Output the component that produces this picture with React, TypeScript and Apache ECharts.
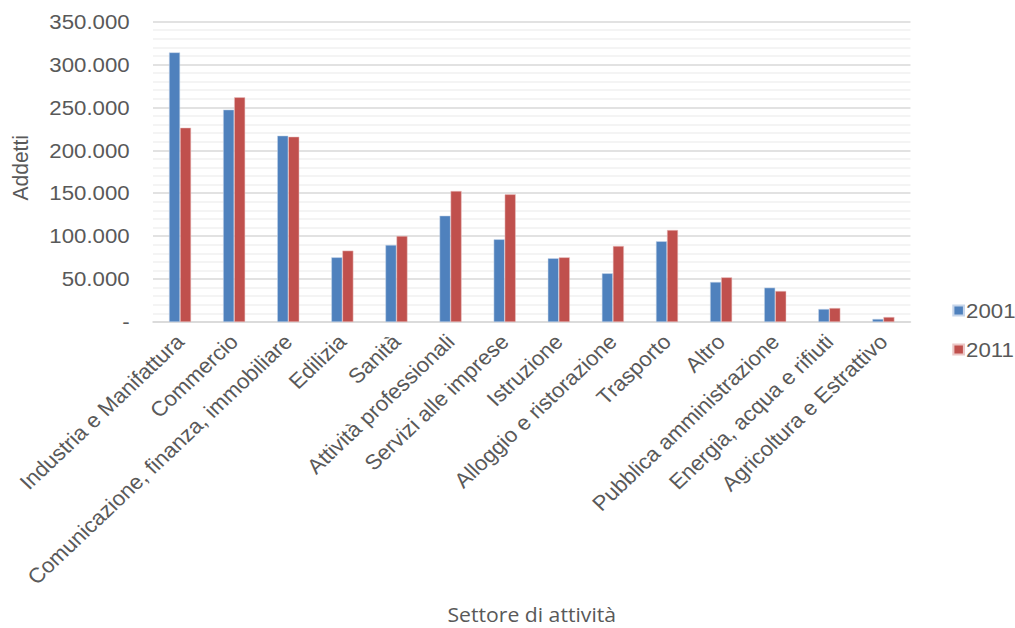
import React, { useEffect, useRef } from "react";
import * as echarts from "echarts";

const categories = [
  "Industria e Manifattura",
  "Commercio",
  "Comunicazione, finanza, immobiliare",
  "Edilizia",
  "Sanità",
  "Attività professionali",
  "Servizi alle imprese",
  "Istruzione",
  "Alloggio e ristorazione",
  "Trasporto",
  "Altro",
  "Pubblica amministrazione",
  "Energia, acqua e rifiuti",
  "Agricoltura e Estrattivo",
];

const addetti2001 = [
  314000, 247300, 217000, 75300, 89700, 123800, 96300, 74200, 56700, 94000,
  46600, 40000, 15100, 3500,
];

const addetti2011 = [
  226300, 261700, 215800, 83100, 100200, 152600, 148700, 75300, 88500, 107100,
  52000, 36100, 16300, 5800,
];

const seriesNames = ["2001", "2011"];
const yTitle = "Addetti";
const xTitle = "Settore di attività";

// The chart is laid out on a slightly narrower canvas and widened with a CSS scale.
const STRETCH = 1.06;
const PAGE_W = 1015;
const PAGE_H = 628;
const CHART_W = PAGE_W / STRETCH;

const formatThousands = (v: number) =>
  v === 0 ? "-" : String(Math.round(v)).replace(/\B(?=(\d{3})+(?!\d))/g, ".");

export default function App() {
  const ref = useRef<HTMLDivElement>(null);

  useEffect(() => {
    if (!ref.current) return;
    const chart = echarts.init(ref.current, undefined, { renderer: "svg" });
    const font = "'Liberation Sans', Arial, sans-serif";
    const gridLeft = 153 / STRETCH;
    const gridRight = CHART_W - 910 / STRETCH;
    chart.setOption({
      animation: false,
      backgroundColor: "#ffffff",
      textStyle: { fontFamily: font },
      grid: { left: gridLeft, right: gridRight, top: 21.5, bottom: 306, containLabel: false },
      legend: {
        orient: "vertical",
        left: 947 / STRETCH,
        top: 295,
        itemWidth: 10,
        itemHeight: 10,
        itemGap: 18,
        icon: "rect",
        data: seriesNames,
        textStyle: { fontSize: 21, color: "#595959", fontFamily: font, padding: [0, 0, 0, -3] },
      },
      xAxis: {
        type: "category",
        data: categories,
        axisTick: { show: false },
        axisLine: { show: true, lineStyle: { color: "#d9d9d9", width: 1.5 } },
        axisLabel: {
          rotate: 45,
          interval: 0,
          margin: 16,
          fontSize: 21,
          color: "#595959",
          fontFamily: font,
        },
        name: xTitle,
        nameLocation: "middle",
        nameGap: 282,
        nameTextStyle: {
          fontSize: 20,
          lineHeight: 20,
          color: "#595959",
          fontFamily: "'Open Sans', sans-serif",
        },
      },
      yAxis: {
        type: "value",
        min: 0,
        max: 350000,
        interval: 50000,
        axisLine: { show: false },
        axisTick: { show: false },
        axisLabel: {
          formatter: formatThousands,
          fontSize: 21,
          color: "#595959",
          margin: 22,
          fontFamily: font,
        },
        splitLine: { show: true, lineStyle: { color: "#d9d9d9", width: 1.5 } },
        minorTick: { show: false, splitNumber: 5 },
        minorSplitLine: { show: true, lineStyle: { color: "#f0f0f0", width: 1.5 } },
        name: yTitle,
        nameLocation: "middle",
        nameGap: 115,
        nameTextStyle: { fontSize: 21, color: "#595959", fontFamily: font, padding: [0, 0, 0, 8] },
      },
      series: [
        {
          name: seriesNames[0],
          type: "bar",
          data: addetti2001,
          barWidth: 10.4,
          barGap: "0%",
          itemStyle: { color: "#4f81bd", borderColor: "#c6d5ea", borderWidth: 0.5 },
        },
        {
          name: seriesNames[1],
          type: "bar",
          data: addetti2011,
          barWidth: 10.4,
          barGap: "0%",
          itemStyle: { color: "#c0504d", borderColor: "#ecc7c6", borderWidth: 0.5 },
        },
      ],
    });
    return () => chart.dispose();
  }, []);

  return (
    <div style={{ position: "absolute", left: 0, top: 0, width: PAGE_W, height: PAGE_H, overflow: "hidden", background: "#fff" }}>
      <div
        ref={ref}
        style={{
          width: CHART_W,
          height: PAGE_H,
          transform: `scaleX(${STRETCH})`,
          transformOrigin: "0 0",
        }}
      />
    </div>
  );
}
